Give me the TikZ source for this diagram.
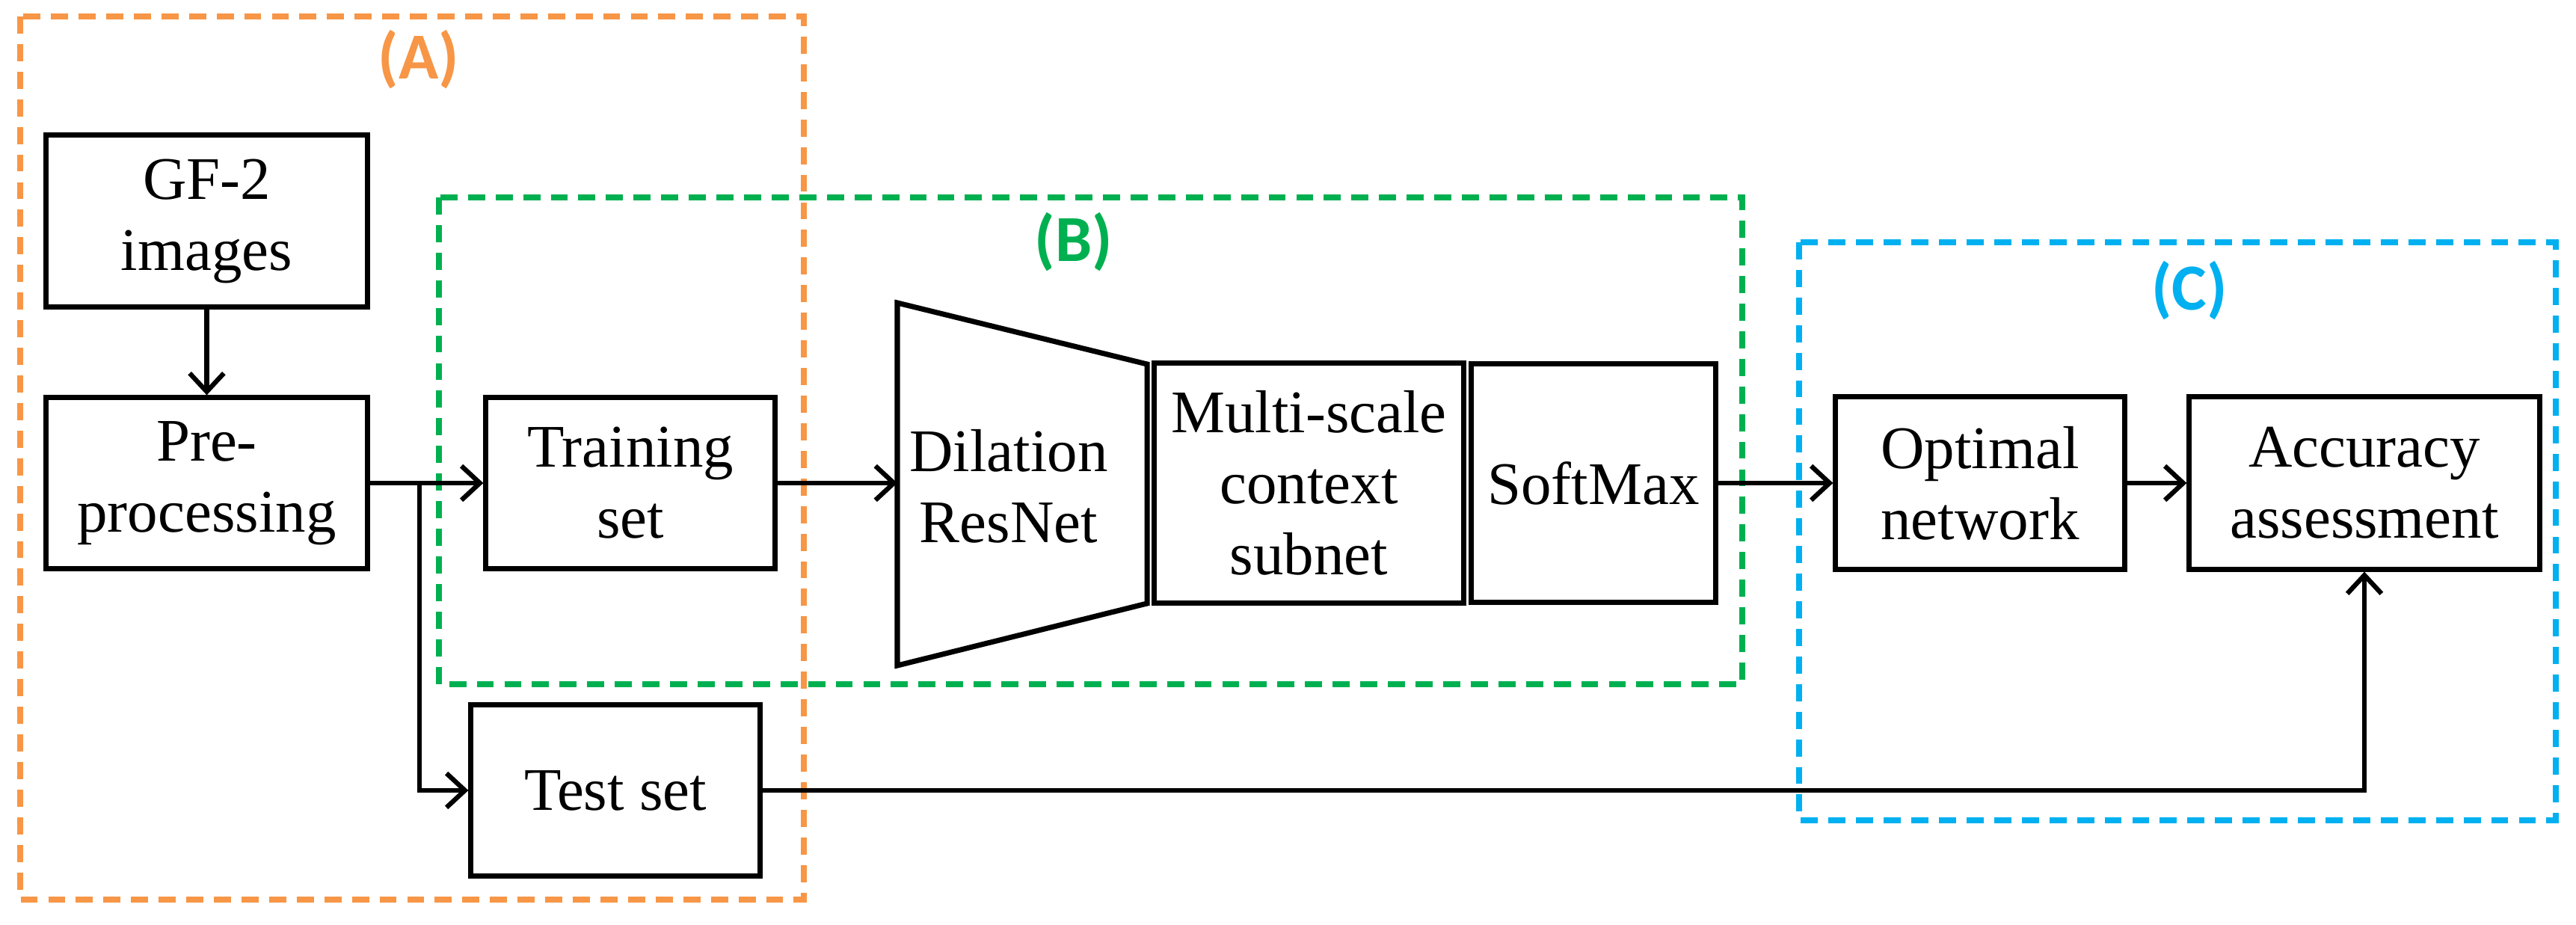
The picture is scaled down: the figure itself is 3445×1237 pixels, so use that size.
\documentclass[tikz,border=0pt]{standalone}
\usepackage{fontspec}
\setmainfont{Liberation Serif}
\newfontfamily\serif{Liberation Serif}
\newfontfamily\lblfont{Carlito}
\usetikzlibrary{arrows.meta}
\definecolor{cA}{HTML}{F79646}
\definecolor{cB}{HTML}{00B050}
\definecolor{cC}{HTML}{00B0F0}
\begin{document}
\begin{tikzpicture}[x=0.01cm,y=-0.01cm,
  box/.style={draw=black,line width=2pt,align=center,inner sep=0pt,font=\serif\fontsize{23}{27}\selectfont},
  frame/.style={line width=2.2pt,dash pattern=on 6.5pt off 4pt},
  lbl/.style={font=\lblfont\bfseries\fontsize{25}{28}\selectfont},
  conn/.style={line width=1.8pt,-{Straight Barb[length=7pt,width=13pt,line width=1.8pt]}},
  line/.style={line width=2pt}]
\useasboundingbox (0,0) rectangle (3445,1237);
% frames
\draw[frame,cA] (27,22) rectangle (1075,1203);
\draw[frame,cB] (587,264) rectangle (2330,915);
\draw[frame,cC] (2406,324) rectangle (3418,1097);
\node[lbl,text=cA] (la) at (560,80) {(A)};
\node[lbl,text=cB] (lb) at (1436,324) {(B)};
\node[lbl,text=cC] (lc) at (2928,389) {(C)};
% boxes
\node[box,minimum width=4.29cm,minimum height=2.29cm] (gf) at (276.5,295.5) {GF-2\\images};
\node[box,minimum width=4.29cm,minimum height=2.28cm] (pre) at (276.5,646) {Pre-\\processing};
\node[box,minimum width=3.86cm,minimum height=2.28cm] (train) at (843,646) {Training\\set};
\node[box,minimum width=3.86cm,minimum height=2.29cm] (test) at (823,1057) {Test set};
\node[box,minimum width=4.13cm,minimum height=3.21cm] (multi) at (1750.5,646) {Multi-scale\\context\\subnet};
\node[box,minimum width=3.26cm,minimum height=3.18cm] (soft) at (2131,646) {SoftMax};
\node[box,minimum width=3.86cm,minimum height=2.30cm] (opt) at (2648,646) {Optimal\\network};
\node[box,minimum width=4.68cm,minimum height=2.30cm] (acc) at (3162,646) {Accuracy\\assessment};
% trapezoid
\coordinate (t1) at (1200,405);
\coordinate (t2) at (1534,487);
\coordinate (t3) at (1534,807);
\coordinate (t4) at (1200,890);
\coordinate (tin) at (1200,646);
\draw[line,line join=miter] (t1) -- (t2) -- (t3) -- (t4) -- cycle;
\node[box,draw=none] (dil) at (1349,650) {Dilation\\ResNet};
% connectors
\coordinate (br) at (561,646);
\coordinate (brd) at (561,1057);
\coordinate (tc) at (3162,1057);
\draw[conn] (gf) -- (pre);
\draw[conn] (pre.east) -- (br) -- (train.west);
\draw[conn] (br) -- (brd) -- (test.west);
\draw[conn] (train.east) -- (tin);
\draw[conn] (soft.east) -- (opt.west);
\draw[conn] (opt.east) -- (acc.west);
\draw[conn] (test.east) -- (tc) -- (acc.south);
\end{tikzpicture}
\end{document}
